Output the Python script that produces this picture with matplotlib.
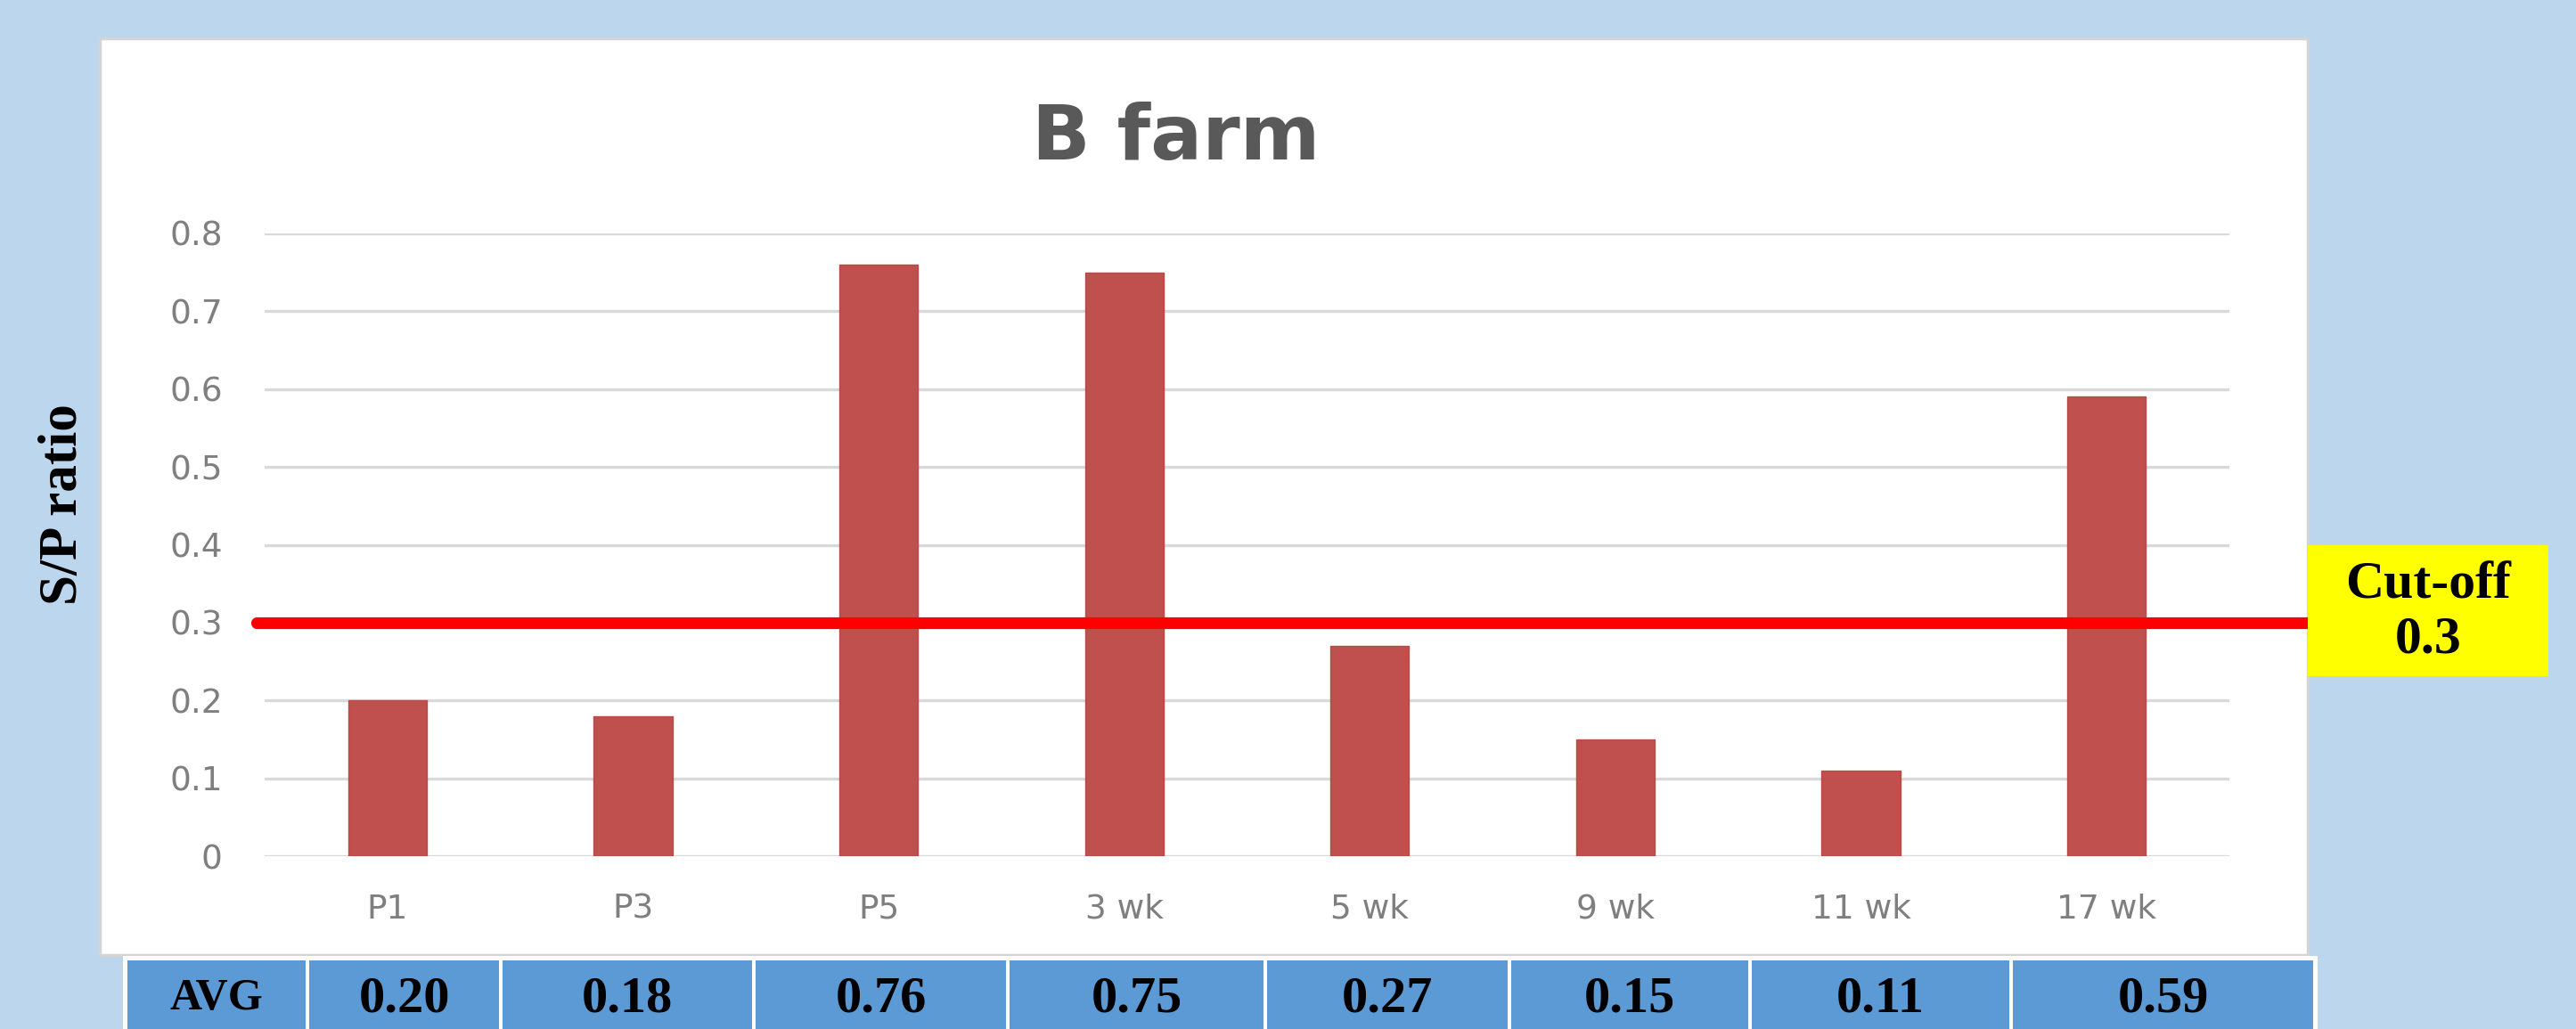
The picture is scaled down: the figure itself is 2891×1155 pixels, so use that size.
import matplotlib
matplotlib.use("Agg")
import matplotlib.pyplot as plt
from matplotlib.patches import Rectangle

# S/P ratio by sampling age, B farm
categories = ["P1", "P3", "P5", "3 wk", "5 wk", "9 wk", "11 wk", "17 wk"]
sp_avg = [0.20, 0.18, 0.76, 0.75, 0.27, 0.15, 0.11, 0.59]
cutoff = 0.3
y_ticks = [0, 0.1, 0.2, 0.3, 0.4, 0.5, 0.6, 0.7, 0.8]
y_tick_labels = ["0", "0.1", "0.2", "0.3", "0.4", "0.5", "0.6", "0.7", "0.8"]

W, H = 2891, 1155


def fx(x):
    return x / W


def fy(y):
    return 1 - y / H


fig = plt.figure(figsize=(W / 100, H / 100), dpi=100)
fig.patch.set_facecolor("#BCD6EE")

# white chart panel
panel = Rectangle((fx(112), fy(1072)), fx(2590) - fx(112), fy(43) - fy(1072),
                  transform=fig.transFigure, facecolor="white", edgecolor="#D4D4D4",
                  linewidth=2.5, zorder=-1)
fig.patches.append(panel)

ax = fig.add_axes([fx(297), fy(961), fx(2502) - fx(297), fy(262) - fy(961)])
ax.set_zorder(2)
ax.set_facecolor("none")
x = list(range(len(categories)))
ax.bar(x, sp_avg, width=0.32, color="#C0504D", edgecolor="#B84A47", linewidth=1, zorder=3)

ax.set_xlim(-0.5, len(categories) - 0.5)
ax.set_ylim(0, 0.8)
ax.set_yticks(y_ticks)
ax.set_yticklabels(y_tick_labels)
ax.set_xticks(x)
ax.set_xticklabels(categories)
ax.yaxis.grid(True, color="#D9D9D9", linewidth=2.4, zorder=0)
ax.set_axisbelow(True)
for s in ax.spines.values():
    s.set_visible(False)
ax.tick_params(axis="both", length=0, labelsize=27, labelcolor="#7F7F7F")
ax.tick_params(axis="y", pad=34)
ax.tick_params(axis="x", pad=30)
for lab in ax.get_xticklabels() + ax.get_yticklabels():
    lab.set_fontfamily("DejaVu Sans")

# cut-off line runs out to the edge of the panel
ax.axhline(cutoff, xmin=-0.004, xmax=(2590 - 297) / (2502 - 297), color="#FF0000",
           linewidth=9.5, solid_capstyle="round", clip_on=False, zorder=5)

fig.text(fx(1320), fy(155), "B farm", ha="center", va="center", fontsize=62,
         fontweight="bold", color="#595959", family="DejaVu Sans")

fig.text(fx(71), fy(566), "S/P ratio", ha="center", va="center", rotation=90,
         fontsize=44, fontweight="bold", color="black", family="Liberation Serif")

# cut-off label box
box = Rectangle((fx(2590), fy(759)), fx(2860) - fx(2590), fy(612) - fy(759),
                transform=fig.transFigure, facecolor="#FFFF00", edgecolor="none", zorder=6)
fig.patches.append(box)
fig.text(fx(2725), fy(688), "Cut-off\n%.1f" % cutoff, ha="center", va="center",
         fontsize=43, fontweight="bold", color="black", family="Liberation Serif",
         linespacing=1.15, zorder=7)

# AVG row under the chart, white rule lines between the cells
col_edges = [141, 345, 562, 846, 1131, 1420, 1694, 1964, 2257, 2598]
strip = Rectangle((fx(col_edges[0] - 3), fy(H + 5)), fx(col_edges[-1] + 3) - fx(col_edges[0] - 3),
                  fy(1073) - fy(H + 5), transform=fig.transFigure, facecolor="white",
                  edgecolor="none", zorder=0)
fig.patches.append(strip)
row_text = ["AVG"] + ["%.2f" % v for v in sp_avg]
for i, txt in enumerate(row_text):
    x0, x1 = col_edges[i], col_edges[i + 1]
    cell = Rectangle((fx(x0 + 2), fy(H + 5)), fx(x1 - 2) - fx(x0 + 2), fy(1078) - fy(H + 5),
                     transform=fig.transFigure, facecolor="#5B9AD5", edgecolor="none", zorder=1)
    fig.patches.append(cell)
    fig.text(fx((x0 + x1) / 2), fy(1121), txt, ha="center", va="center",
             fontsize=36 if i == 0 else 42, fontweight="bold", color="black",
             family="Liberation Serif")

fig.savefig("out.png", dpi=100, facecolor=fig.get_facecolor())
